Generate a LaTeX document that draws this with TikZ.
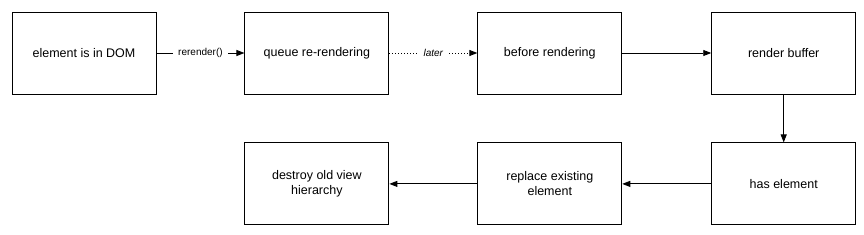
\documentclass[tikz,border=0pt]{standalone}
\usepackage{fontspec}
\setmainfont{Liberation Sans}
\usetikzlibrary{arrows.meta,positioning}

\begin{document}
\begin{tikzpicture}[x=1pt,y=1pt,
  stagebox/.style={draw, line width=0.9pt, minimum width=144pt, minimum height=82pt, align=center, font=\fontsize{12.5}{15}\selectfont},
  flow/.style={line width=0.9pt, -{Triangle[length=8pt,width=6pt]}},
  edgelabel/.style={fill=white, inner xsep=5pt, inner ysep=2pt, font=\fontsize{10}{12}\selectfont},
  node distance=88pt and 48pt]
\useasboundingbox (0,0) rectangle (864,-235);
% top row
\node[stagebox] (inDom) at (84,-53) {element is in DOM};
\node[stagebox, right=88pt of inDom] (queue) {queue re-rendering};
\node[stagebox, right=88pt of queue] (before) {before rendering};
\node[stagebox, right=89pt of before] (buffer) {render buffer};
% bottom row
\node[stagebox, below=48pt of buffer] (hasElem) {has element};
\node[stagebox, below=48pt of before] (replace) {replace existing\\element};
\node[stagebox, below=48pt of queue] (destroy) {destroy old view\\hierarchy};
% connectors
\draw[flow] (inDom) -- node[edgelabel] {rerender()} (queue);
\draw[flow, dash pattern=on 1pt off 2pt] (queue) -- node[edgelabel] {\itshape later} (before);
\draw[flow] (before) -- (buffer);
\draw[flow] (buffer) -- (hasElem);
\draw[flow] (hasElem) -- (replace);
\draw[flow] (replace) -- (destroy);
\end{tikzpicture}
\end{document}
